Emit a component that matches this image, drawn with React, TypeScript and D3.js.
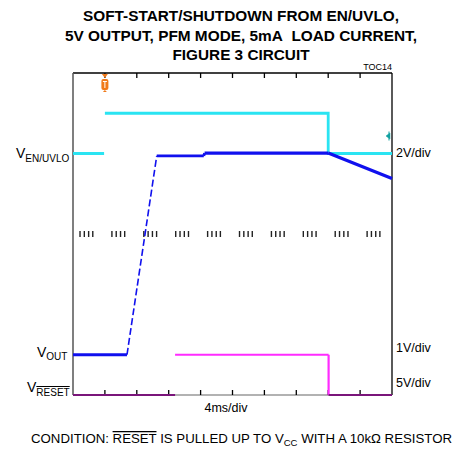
import React from "react";
import * as d3 from "d3";

// ---- data (time in ms, volts per channel) ----
const titleLines = [
  "SOFT-START/SHUTDOWN FROM EN/UVLO,",
  "5V OUTPUT, PFM MODE, 5mA\u00a0 LOAD CURRENT,",
  "FIGURE 3 CIRCUIT",
];
const timeDivs = 10;
const msPerDiv = 4;
const voltDivs = 8;

// EN/UVLO channel: 2V/div, ground at division 6
const enT = [0, 3.9, 3.95, 4.0, 32.0, 32.0, 40];
const enV = [0, 0, NaN, 2.0, 2.0, 0, 0];

// VOUT channel: 1V/div, ground at division 1
const voutT = [0, 6.77, 10.5, 16.4, 16.5, 32.0, 40];
const voutV = [0, 0, 4.94, 4.94, 5.01, 5.01, 4.38];
const voutDashed = [false, true, false, false, false, false];

// RESET channel: 5V/div, ground at division 0
const resetT = [0, 12.8, 12.8, 32.05, 32.05, 40];
const resetV = [0, 0, 5, 5, 0, 0];

const channels = {
  en: { offset: 6, vPerDiv: 2 },
  vout: { offset: 1, vPerDiv: 1 },
  reset: { offset: 0, vPerDiv: 5 },
};

const triggerMs = 4.0;

const W = 458;
const H = 450;
const L = 73, R = 392, T = 73, B = 395;

const FONT = "'Liberation Sans', Arial, Helvetica, sans-serif";

export default function App() {
  const x = d3.scaleLinear().domain([0, timeDivs * msPerDiv]).range([L, R]);
  const yDiv = d3.scaleLinear().domain([0, voltDivs]).range([B, T]);
  const yc = (ch: { offset: number; vPerDiv: number }) => (v: number) =>
    yDiv(ch.offset + v / ch.vPerDiv);

  const enY = yc(channels.en);
  const voY = yc(channels.vout);
  const rsY = yc(channels.reset);

  const enPts = enT.map((t, i) => ({ t, v: enV[i] }));
  const enLine = d3
    .line<{ t: number; v: number }>()
    .defined((d) => !isNaN(d.v))
    .x((d) => x(d.t))
    .y((d) => enY(d.v));

  const divW = (R - L) / timeDivs;
  const majors = d3.range(1, timeDivs).map((i) => x(i * msPerDiv));
  const minorOffsets = [0.22, 0.355, 0.49, 0.62];
  const minors: number[] = [];
  d3.range(0, timeDivs).forEach((i) => {
    minorOffsets.forEach((o) => minors.push(L + (i + o) * divW));
  });
  const yMid = yDiv(voltDivs / 2);

  const voutSegs = voutT.slice(0, -1).map((t, i) => ({
    x1: x(t),
    y1: voY(voutV[i]),
    x2: x(voutT[i + 1]),
    y2: voY(voutV[i + 1]),
    dashed: voutDashed[i],
  }));

  const resetSegs = resetT.slice(0, -1).map((t, i) => ({
    x1: x(t),
    y1: rsY(resetV[i]),
    x2: x(resetT[i + 1]),
    y2: rsY(resetV[i + 1]),
    high: resetV[i] > 0 || resetV[i + 1] > 0,
    edge: t === resetT[i + 1],
    rising: resetV[i + 1] > resetV[i],
  }));

  const tx = x(triggerMs);
  const over = { textDecoration: "overline" } as React.CSSProperties;

  return (
    <svg
      width={W}
      height={H}
      style={{ position: "absolute", left: 0, top: 0, background: "#fff" }}
      fontFamily={FONT}
    >
      {/* title */}
      {titleLines.map((s, i) => (
        <text
          key={i}
          x={241}
          y={21 + i * 19.5}
          textAnchor="middle"
          fontWeight="bold"
          fontSize={14.5}
          textLength={[316, 352, 137][i]}
          lengthAdjust="spacingAndGlyphs"
        >
          {s}
        </text>
      ))}
      <text x={392} y={70} textAnchor="end" fontSize={9}>
        TOC14
      </text>

      {/* frame */}
      <line x1={L} y1={T} x2={R} y2={T} stroke="#000" strokeWidth={1.3} />
      <line x1={R} y1={T} x2={R} y2={B} stroke="#000" strokeWidth={1.3} />
      <line x1={L} y1={T} x2={L} y2={B} stroke="#555" strokeWidth={1.5} />
      <line x1={L} y1={B} x2={R} y2={B} stroke="#666" strokeWidth={1.2} />
      {majors.map((mx, i) => (
        <g key={i}>
          <line x1={mx} y1={T} x2={mx} y2={T + 5} stroke="#000" strokeWidth={1.3} />
          <line x1={mx} y1={B} x2={mx} y2={B - 5} stroke="#000" strokeWidth={1.3} />
        </g>
      ))}
      {minors.map((mx, i) => (
        <line
          key={i}
          x1={mx}
          y1={yMid - 3}
          x2={mx}
          y2={yMid + 3}
          stroke="#222"
          strokeWidth={1.4}
        />
      ))}

      {/* EN/UVLO trace */}
      <path d={enLine(enPts) || ""} fill="none" stroke="#2ae4f2" strokeWidth={2.8} />

      {/* RESET trace */}
      {resetSegs
        .filter((s) => !(s.edge && s.rising))
        .map((s, i) => (
          <line
            key={i}
            x1={s.x1}
            y1={s.y1}
            x2={s.x2}
            y2={s.y2}
            stroke={s.high ? "#ff2bff" : "#7a157a"}
            strokeWidth={2.2}
          />
        ))}

      {/* VOUT trace */}
      {voutSegs.map((s, i) => (
        <line
          key={i}
          x1={s.x1}
          y1={s.y1}
          x2={s.x2}
          y2={s.y2}
          stroke="#1010ee"
          strokeWidth={s.dashed ? 1.6 : i >= 4 ? 3.2 : 2.8}
          strokeDasharray={s.dashed ? "7 3" : undefined}
        />
      ))}

      {/* trigger marker */}
      <g fill="#f07a1a" stroke="none">
        <path d={`M${tx - 3},${T + 1} L${tx + 3},${T + 1} L${tx},${T + 5} Z`} />
        <rect x={tx - 3.5} y={T + 6} width={7} height={11} rx={2} />
        <path d={`M${tx},${T + 17} L${tx - 2},${T + 19} L${tx + 2},${T + 19} Z`} />
      </g>
      <g stroke="#fff" strokeWidth={1}>
        <line x1={tx - 2} y1={T + 8.5} x2={tx + 2} y2={T + 8.5} />
        <line x1={tx} y1={T + 8.5} x2={tx} y2={T + 15} />
      </g>

      {/* ground marker for EN on the right */}
      <g fill="#10a0a0" stroke="#10a0a0">
        <path d={`M${R - 6},${136} L${R - 2},${133} L${R - 2},${139} Z`} strokeWidth={0.5} />
        <line x1={R - 3} y1={131.5} x2={R - 3} y2={140.5} strokeWidth={1} />
      </g>

      {/* channel labels, left */}
      <text x={16} y={158} fontSize={14}>
        V<tspan fontSize={10} dy={4}>EN/UVLO</tspan>
      </text>
      <text x={37} y={357} fontSize={14}>
        V<tspan fontSize={10} dy={3}>OUT</tspan>
      </text>
      <text x={27} y={392} fontSize={14}>
        V<tspan fontSize={10} dy={4} style={over}>RESET</tspan>
      </text>

      {/* scale labels, right */}
      <text x={396} y={157} fontSize={12.5}>2V/div</text>
      <text x={396} y={352} fontSize={12.5}>1V/div</text>
      <text x={396} y={387} fontSize={12.5}>5V/div</text>

      <text x={226} y={412} fontSize={12.5} textAnchor="middle">
        4ms/div
      </text>

      {/* condition */}
      <text x={31} y={443} fontSize={12.5} textLength={421} lengthAdjust="spacingAndGlyphs">
        CONDITION:{"\u00a0"}
        <tspan style={over}>RESET</tspan> IS PULLED UP TO V
        <tspan fontSize={9} dy={3}>CC</tspan>
        <tspan dy={-3}> WITH A 10kΩ RESISTOR</tspan>
      </text>
    </svg>
  );
}
